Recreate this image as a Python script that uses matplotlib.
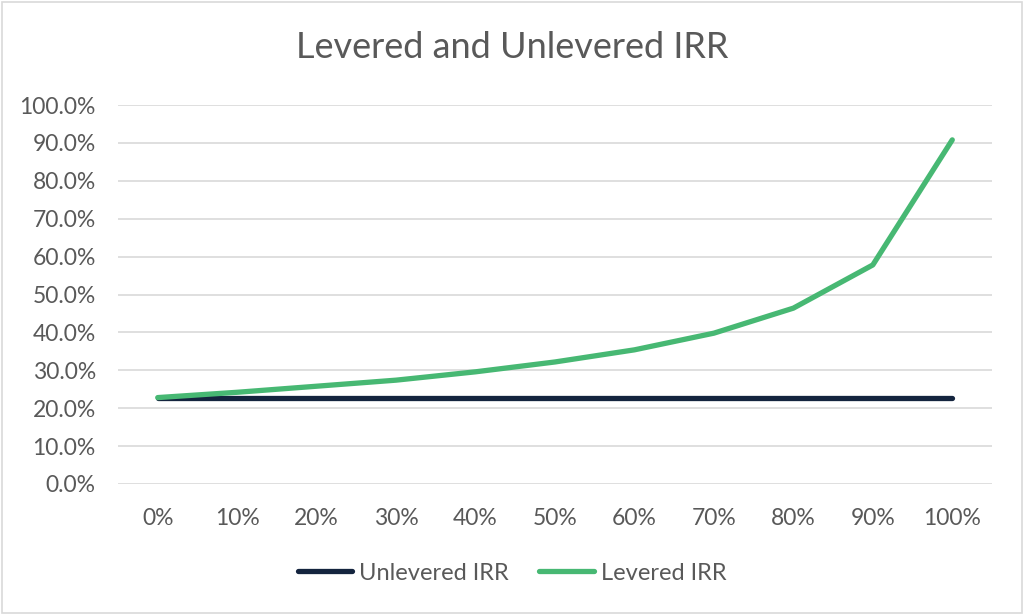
import matplotlib
matplotlib.use("Agg")
import matplotlib.pyplot as plt
from matplotlib.ticker import FuncFormatter
from matplotlib.patches import Rectangle

categories = ["0%", "10%", "20%", "30%", "40%", "50%", "60%", "70%", "80%", "90%", "100%"]
unlevered = [22.8, 22.8, 22.8, 22.8, 22.8, 22.8, 22.8, 22.8, 22.8, 22.8, 22.8]
levered = [22.8, 24.2, 25.8, 27.4, 29.6, 32.2, 35.4, 39.8, 46.4, 57.8, 90.8]

plt.rcParams['font.family'] = ['Lato', 'DejaVu Sans']
gray = "#595959"

fig = plt.figure(figsize=(10.24, 6.15), dpi=100)
fig.patches.append(Rectangle((0.002, 0.003), 0.996, 0.994, transform=fig.transFigure,
                             fill=False, edgecolor="#d9d9d9", linewidth=1.2))
ax = fig.add_axes([118/1024, 1-484/615, (992-118)/1024, (484-105)/615])

x = list(range(len(categories)))
ax.plot(x, unlevered, color="#14243E", linewidth=3.8, solid_capstyle="round", label="Unlevered IRR")
ax.plot(x, levered, color="#47B873", linewidth=3.8, solid_capstyle="round", label="Levered IRR")

ax.set_xlim(-0.5, len(categories) - 0.5)
ax.set_ylim(0, 100)
ax.set_yticks(range(0, 101, 10))
ax.yaxis.set_major_formatter(FuncFormatter(lambda v, p: f"{v:.1f}%"))
ax.set_xticks(x)
ax.set_xticklabels(categories)
ax.grid(axis="y", color="#d9d9d9", linewidth=1.2)
ax.set_axisbelow(True)
for s in ax.spines.values():
    s.set_visible(False)
ax.tick_params(axis="both", length=0, labelsize=16.5, colors=gray, labelcolor=gray)
ax.tick_params(axis="y", pad=16)
ax.tick_params(axis="x", pad=17)

fig.text(0.5, 1-47/615, "Levered and Unlevered IRR", ha="center", va="center",
         fontsize=26, color=gray)

leg = fig.legend(loc="center", bbox_to_anchor=(0.5, 1-573/615), ncol=2, frameon=False,
                 fontsize=17, labelcolor=gray, handlelength=2.3, handletextpad=0.3,
                 columnspacing=1.3)

fig.savefig("out.png", dpi=100)
